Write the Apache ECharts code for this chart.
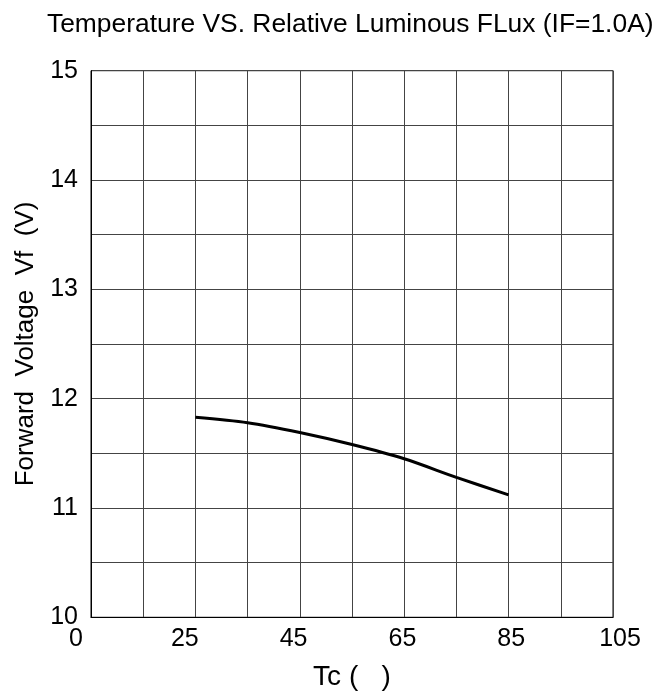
<!DOCTYPE html>
<html>
<head>
<meta charset="utf-8">
<script src="https://cdn.jsdelivr.net/npm/echarts@6/dist/echarts.min.js"></script>
<style>
html,body{margin:0;padding:0;background:#fff;}
#chart{width:656px;height:698px;}
</style>
</head>
<body>
<div id="chart"></div>
<script>
// Data
const tempC = [25, 35, 45, 55, 65, 75, 85];
const forwardVoltage = [11.83, 11.78, 11.69, 11.58, 11.45, 11.28, 11.12];
// Grid columns of the plot (one column per 10 °C)
const gridCategories = ['5', '15', '25', '35', '45', '55', '65', '75', '85', '95', '105'];
// Tick labels shown under the x axis
const xTickLabels = ['0', '25', '45', '65', '85', '105'];
const yMin = 10, yMax = 15, yStep = 0.5;

const FONT = "'Liberation Sans', Arial, sans-serif";
const chart = echarts.init(document.getElementById('chart'), null, {renderer: 'canvas'});

const option = {
  backgroundColor: '#fff',
  animation: false,
  title: {
    text: 'Temperature VS. Relative Luminous FLux (IF=1.0A)',
    left: 42,
    top: 7,
    textStyle: {fontFamily: FONT, fontSize: 26.4, fontWeight: 'normal', color: '#000'}
  },
  grid: [
    {left: 91, right: 43, top: 70.7, bottom: 80.7, show: true, borderColor: '#000', borderWidth: 1, backgroundColor: 'transparent'},
    {left: 76, right: 36, top: 70.7, bottom: 80.7, show: false}
  ],
  xAxis: [
    {
      type: 'category', gridIndex: 0, data: gridCategories, boundaryGap: false,
      axisLine: {show: true, lineStyle: {color: '#000', width: 1}},
      axisTick: {show: false},
      axisLabel: {show: false},
      splitLine: {show: true, lineStyle: {color: '#444', width: 1}},
      name: 'Tc (   )', nameLocation: 'middle', nameGap: 46,
      nameTextStyle: {fontFamily: FONT, fontSize: 28, color: '#000'}
    },
    {
      type: 'category', gridIndex: 1, data: xTickLabels, boundaryGap: false,
      axisLine: {show: false}, axisTick: {show: false}, splitLine: {show: false},
      axisLabel: {show: true, interval: 0, margin: 9, fontFamily: FONT, fontSize: 25, color: '#000'}
    }
  ],
  yAxis: [
    {
      type: 'value', gridIndex: 0, min: yMin, max: yMax, interval: yStep,
      axisLine: {show: true, lineStyle: {color: '#000', width: 1}},
      axisTick: {show: false},
      axisLabel: {
        margin: 13, fontFamily: FONT, fontSize: 25, color: '#000',
        formatter: v => (Math.abs(v - Math.round(v)) < 1e-9 ? String(Math.round(v)) : '')
      },
      splitLine: {show: true, lineStyle: {color: '#444', width: 1}},
      name: 'Forward  Voltage  Vf  (V)', nameLocation: 'middle', nameGap: 44, nameRotate: 90,
      nameTextStyle: {fontFamily: FONT, fontSize: 26, color: '#000'}
    },
    {type: 'value', gridIndex: 1, min: yMin, max: yMax, show: false}
  ],
  series: [
    {
      type: 'line', xAxisIndex: 0, yAxisIndex: 0,
      data: tempC.map((t, i) => [String(t), forwardVoltage[i]]),
      smooth: 0.3, showSymbol: false, symbol: 'none',
      lineStyle: {color: '#000', width: 3}
    }
  ]
};
chart.setOption(option);
</script>
</body>
</html>
